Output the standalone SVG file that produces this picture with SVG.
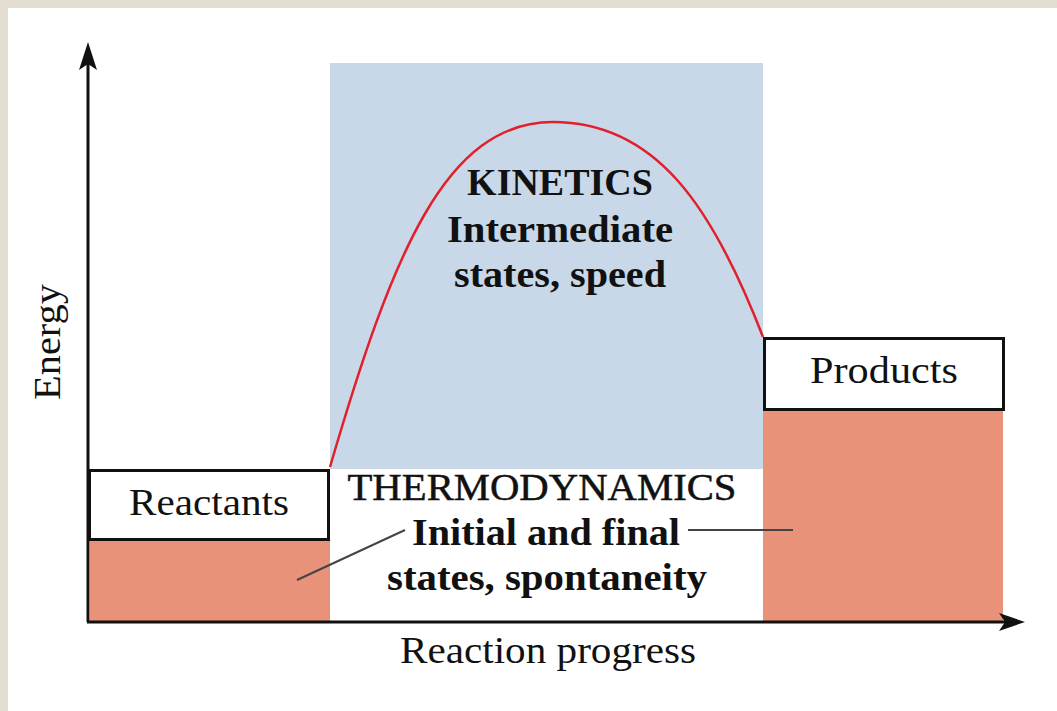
<svg xmlns="http://www.w3.org/2000/svg" width="1057" height="711" viewBox="0 0 1057 711">
<defs>
<style>
.t{font-family:"Liberation Serif","Times New Roman",serif;font-size:38px;fill:#111;text-anchor:middle}
.b{font-weight:bold}
.box{fill:#fff;stroke:#111;stroke-width:3}
.fill{fill:#e9927a}
.lead{stroke:#444;stroke-width:2;fill:none}
.axis{stroke:#111;stroke-width:3;fill:none}
</style>
<marker id="ah" viewBox="0 0 26 18" refX="24" refY="9" markerWidth="26" markerHeight="18" markerUnits="userSpaceOnUse" orient="auto">
<path d="M0,0 L26,9 L0,18 L7,9 Z" fill="#111"/>
</marker>
</defs>
<rect x="0" y="0" width="1057" height="711" fill="#e3ddd2"/>
<rect x="8" y="8" width="1049" height="703" fill="#fff"/>
<g id="kinetics-region">
<rect x="330" y="63" width="433" height="406" fill="#c8d8e8"/>
<path d="M330,467 C392,255 445,122 553,122 C655,122 712,205 763,337" fill="none" stroke="#e0202a" stroke-width="2.5"/>
<text class="t b" x="560" y="195">KINETICS</text>
<text class="t b" x="560" y="242" textLength="226" lengthAdjust="spacingAndGlyphs">Intermediate</text>
<text class="t b" x="560" y="287" textLength="212" lengthAdjust="spacingAndGlyphs">states, speed</text>
</g>
<g id="reactants">
<rect class="fill" x="90" y="541" width="240" height="80"/>
<rect class="box" x="89.5" y="470.5" width="239" height="69"/>
<text class="t" x="209" y="515" textLength="160" lengthAdjust="spacingAndGlyphs">Reactants</text>
</g>
<g id="products">
<rect class="fill" x="763" y="410" width="240" height="211"/>
<rect class="box" x="764.5" y="338.5" width="239" height="71"/>
<text class="t" x="884" y="383" textLength="148" lengthAdjust="spacingAndGlyphs">Products</text>
</g>
<g id="thermodynamics">
<text class="t" x="542" y="500" textLength="389" lengthAdjust="spacingAndGlyphs" stroke="#111" stroke-width="0.5">THERMODYNAMICS</text>
<text class="t b" x="546" y="545" textLength="268" lengthAdjust="spacingAndGlyphs">Initial and final</text>
<text class="t b" x="547" y="590" textLength="320" lengthAdjust="spacingAndGlyphs">states, spontaneity</text>
</g>
<g id="connectors">
<line class="lead" x1="297" y1="580" x2="405" y2="530"/>
<line class="lead" x1="688" y1="530" x2="793" y2="530"/>
<line class="axis" x1="88" y1="622" x2="88" y2="50"/>
<path d="M79,70 L88,42 L97,70 L88,64 Z" fill="#111"/>
<line class="axis" x1="87" y1="622" x2="1018" y2="622"/>
<path d="M999,613 L1025,622 L999,631 L1005,622 Z" fill="#111"/>
</g>
<g id="axis-labels">
<text class="t" x="548" y="663" textLength="296" lengthAdjust="spacingAndGlyphs">Reaction progress</text>
<text class="t" transform="translate(60,342) rotate(-90)" x="0" y="0" textLength="116" lengthAdjust="spacingAndGlyphs">Energy</text>
</g>
</svg>
